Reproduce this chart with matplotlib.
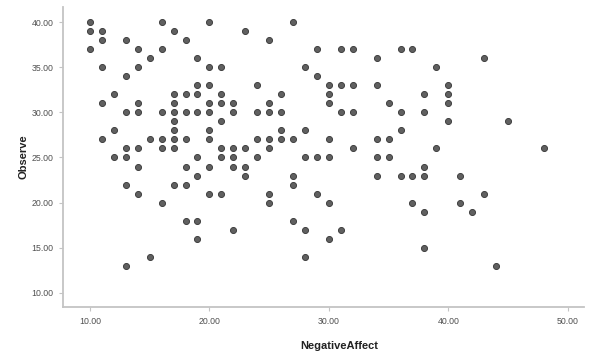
import matplotlib
matplotlib.use("Agg")
import matplotlib.pyplot as plt

# points, grouped by Observe value (row)
observe_rows = [40, 39, 38, 37, 36, 35, 34, 33, 32, 31, 30, 29, 28, 27,
                26, 25, 24, 23, 22, 21, 20, 19, 18, 17, 16, 15, 14, 13]
negaff_rows = [
    [10, 16, 20, 27],
    [10, 11, 17, 23],
    [11, 13, 18, 25],
    [10, 14, 16, 29, 31, 32, 36, 37],
    [15, 19, 34, 43],
    [11, 14, 20, 21, 28, 39],
    [13, 29],
    [19, 20, 24, 30, 31, 32, 34, 40],
    [12, 17, 18, 19, 21, 26, 30, 38, 40],
    [11, 14, 17, 20, 21, 22, 25, 30, 35, 40],
    [13, 14, 16, 17, 18, 19, 20, 22, 24, 25, 26, 31, 32, 36, 38],
    [17, 21, 40, 45],
    [12, 17, 20, 26, 28, 36],
    [11, 15, 16, 17, 18, 20, 24, 25, 26, 27, 30, 34, 35],
    [13, 14, 16, 17, 21, 22, 23, 25, 32, 39, 48],
    [12, 13, 19, 21, 22, 24, 28, 29, 30, 34, 35],
    [14, 18, 20, 22, 23, 38],
    [19, 23, 27, 34, 36, 37, 38, 41],
    [13, 17, 18, 27],
    [14, 20, 21, 25, 29, 43],
    [16, 25, 30, 37, 41],
    [38, 42],
    [18, 19, 27],
    [22, 28, 31],
    [19, 30],
    [38],
    [15, 28],
    [13, 44],
]

negative_affect = []
observe = []
for yv, xs in zip(observe_rows, negaff_rows):
    for xv in xs:
        negative_affect.append(xv)
        observe.append(yv)

xticks = [10, 20, 30, 40, 50]
yticks = [10, 15, 20, 25, 30, 35, 40]

plt.rcParams['font.family'] = ['Liberation Sans', 'DejaVu Sans']

fig = plt.figure(figsize=(5.96, 3.52), dpi=100)
ax = fig.add_axes([0.1057, 0.128, 0.875, 0.852])

ax.scatter(negative_affect, observe, s=19, facecolor='#606060',
           edgecolor='#404040', linewidths=0.7, zorder=3)

ax.set_xlim(7.74, 51.4)
ax.set_ylim(8.45, 41.66)
ax.set_xticks(xticks)
ax.set_yticks(yticks)
ax.set_xticklabels(['%.2f' % v for v in xticks])
ax.set_yticklabels(['%.2f' % v for v in yticks])

for s in ['top', 'right']:
    ax.spines[s].set_visible(False)
for s in ['left', 'bottom']:
    ax.spines[s].set_color('#c4c4c4')
    ax.spines[s].set_linewidth(1.3)

ax.tick_params(axis='both', length=3, width=0.8, color='#c4c4c4',
               labelsize=6.3, labelcolor='#505050', pad=4)

ax.set_xlabel('NegativeAffect', fontsize=8, fontweight='bold',
              color='#222222')
ax.set_ylabel('Observe', fontsize=8, fontweight='bold',
              color='#222222')
ax.xaxis.set_label_coords(0.53, -0.115)
ax.yaxis.set_label_coords(-0.066, 0.5)

fig.savefig('out.png', dpi=100)
